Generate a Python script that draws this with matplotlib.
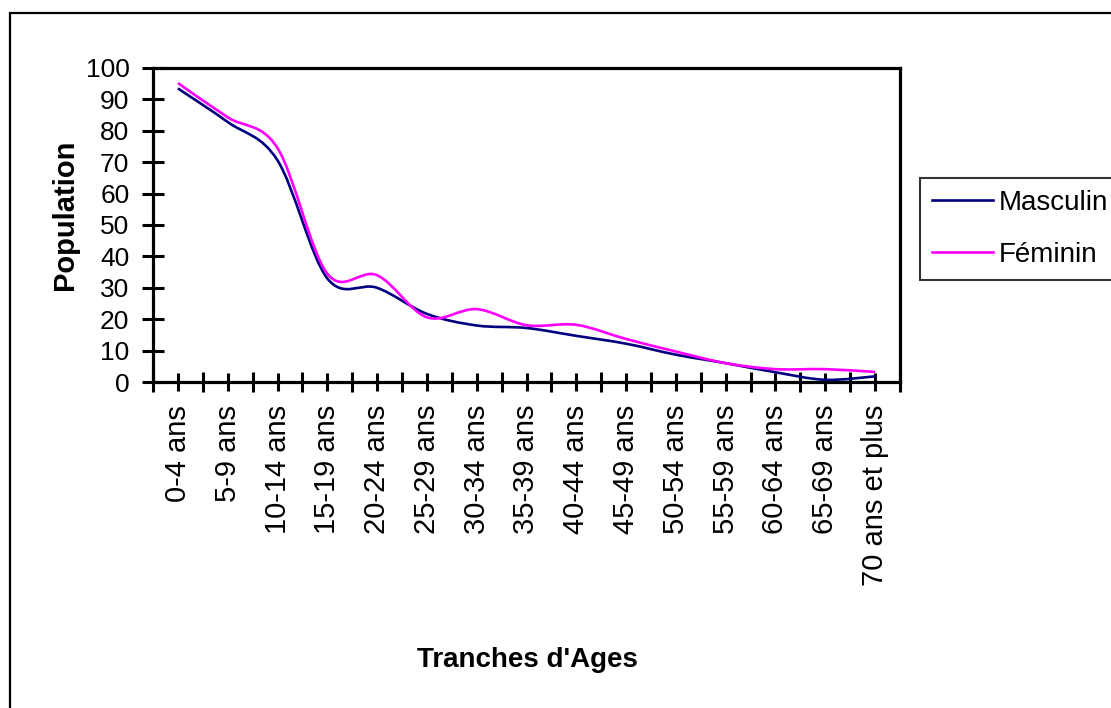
import matplotlib
matplotlib.use("Agg")
import matplotlib.pyplot as plt
import numpy as np
from matplotlib.path import Path
from matplotlib.patches import PathPatch, Rectangle
from matplotlib.lines import Line2D

plt.rcParams['font.family'] = ['Liberation Sans', 'DejaVu Sans']

# données
tranches = ["0-4 ans", "5-9 ans", "10-14 ans", "15-19 ans", "20-24 ans",
            "25-29 ans", "30-34 ans", "35-39 ans", "40-44 ans", "45-49 ans",
            "50-54 ans", "55-59 ans", "60-64 ans", "65-69 ans", "70 ans et plus"]
masculin = [93.5, 82.8, 70.6, 33.0, 30.0, 21.7, 18.0, 17.2, 14.7, 12.2,
            8.7, 6.0, 3.1, 0.7, 1.8]
feminin = [95.2, 84.3, 74.5, 34.5, 34.0, 20.6, 23.2, 18.1, 18.2, 13.7,
           9.7, 6.0, 4.1, 4.1, 3.2]
yticks = list(range(0, 101, 10))


def smooth_path(xs, ys):
    # courbe lissée (comme Excel) : Catmull-Rom convertie en Bézier cubique
    xs = np.asarray(xs, float)
    ys = np.asarray(ys, float)
    n = len(xs)
    verts = [(xs[0], ys[0])]
    codes = [Path.MOVETO]
    for i in range(n - 1):
        i0 = max(i - 1, 0)
        i3 = min(i + 2, n - 1)
        c1 = (xs[i] + (xs[i + 1] - xs[i0]) / 6, ys[i] + (ys[i + 1] - ys[i0]) / 6)
        c2 = (xs[i + 1] - (xs[i3] - xs[i]) / 6, ys[i + 1] - (ys[i3] - ys[i]) / 6)
        verts += [c1, c2, (xs[i + 1], ys[i + 1])]
        codes += [Path.CURVE4] * 3
    return Path(verts, codes)


fig = plt.figure(figsize=(11.11, 7.08), dpi=100)
ax = fig.add_axes([153 / 1111, 1 - 382 / 708, 747 / 1111, 314 / 708])

x = np.arange(len(tranches))
series = [(masculin, "#000080", "Masculin"), (feminin, "#FF00FF", "Féminin")]
handles = []
for vals, color, name in series:
    ax.add_patch(PathPatch(smooth_path(x, vals), facecolor='none',
                           edgecolor=color, lw=1.9, transform=ax.transData,
                           zorder=3))
    handles.append(Line2D([], [], color=color, lw=1.9, label=name))

ax.set_xlim(-0.5, len(tranches) - 0.5)
ax.set_ylim(0, 100)
ax.set_yticks(yticks)

ax.set_xticks(np.arange(-0.5, len(tranches), 1))
ax.set_xticklabels([])
ax.set_xticks(x, minor=True)
ax.set_xticklabels(tranches, minor=True, rotation=90, fontsize=21)
ax.tick_params(axis='x', which='major', direction='inout', length=15, width=2.2,
               labelbottom=False)
ax.tick_params(axis='x', which='minor', direction='inout', length=13, width=2.2,
               pad=10)
ax.tick_params(axis='y', direction='inout', length=16, width=2.2, labelsize=19,
               pad=9)

for sp in ax.spines.values():
    sp.set_linewidth(2.3)
    sp.set_color('black')

fig.text(65 / 1111, 1 - 215 / 708, "Population", rotation=90, ha='center',
         va='center', fontsize=21, fontweight='bold')
fig.text(527 / 1111, 1 - 660 / 708, "Tranches d'Ages", ha='center',
         va='center', fontsize=20, fontweight='bold')

leg = ax.legend(handles=handles, loc='upper left',
                bbox_to_anchor=(920 / 1111, 1 - 178 / 708),
                bbox_transform=fig.transFigure, fontsize=20, frameon=True,
                fancybox=False, edgecolor='black', handlelength=2.2,
                handletextpad=0.2, labelspacing=0.95, borderpad=0.42,
                borderaxespad=0)
leg.get_frame().set_linewidth(1.5)

# cadre de la zone du graphique
fig.add_artist(Rectangle((9.5 / 1111, -0.1), 2, 1.1 - 13 / 708,
                         transform=fig.transFigure, fill=False,
                         edgecolor='black', lw=1.6))

fig.savefig("out.png", dpi=100)
